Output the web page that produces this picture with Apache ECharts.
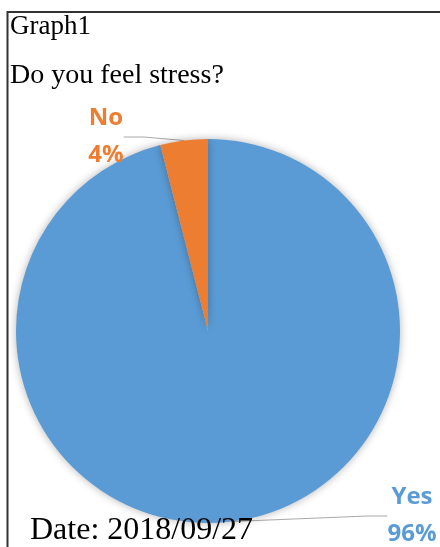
<!DOCTYPE html>
<html><head><meta charset="utf-8">
<script src="https://cdn.jsdelivr.net/npm/echarts@6/dist/echarts.min.js"></script>
<style>html,body{margin:0;padding:0;background:#fff}#c{width:440px;height:547px}</style>
</head><body><div id="c"></div>
<script>
const categories = ['Yes', 'No'];
const values = [96, 4];
const colors = ['#5B9BD5', '#ED7D31'];

const chart = echarts.init(document.getElementById('c'));
chart.setOption({
  animation: false,
  graphic: [
    { type: 'polyline', z: 100, shape: { points: [[440, 12], [7.5, 12], [7.5, 547]] }, style: { stroke: '#333', lineWidth: 2, fill: null } },
    { type: 'text', z: 100, left: 10, top: 13, style: { text: 'Graph1', font: '27px "Liberation Serif"', fill: '#000' } },
    { type: 'text', z: 100, left: 10, top: 62, style: { text: 'Do you feel stress?', font: '28px "Liberation Serif"', fill: '#000' } },
    { type: 'text', z: 100, left: 30, top: 515, style: { text: 'Date: 2018/09/27', font: '32px "Liberation Serif"', fill: '#000' } }
  ],
  series: [{
    type: 'pie',
    center: [208, 331],
    radius: 192,
    startAngle: 90,
    clockwise: true,
    data: categories.map((c, i) => ({ name: c, value: values[i], itemStyle: { color: colors[i] } })),
    itemStyle: { shadowBlur: 8, shadowColor: 'rgba(0,0,0,0.3)' },
    label: {
      show: true,
      formatter: '{b}\n{d}%',
      fontFamily: 'Open Sans',
      fontWeight: 'bold',
      fontSize: 24,
      lineHeight: 37,
      align: 'center',
      color: 'inherit'
    },
    labelLine: { show: true, lineStyle: { color: '#aaa', width: 1.2 }, length: 20, length2: 20 },
    labelLayout: function (p) {
      if (p.dataIndex === 1) return { x: 106, y: 137, align: 'center', verticalAlign: 'middle' };
      return { x: 412, y: 516, align: 'center', verticalAlign: 'middle' };
    }
  }]
});
</script></body></html>
